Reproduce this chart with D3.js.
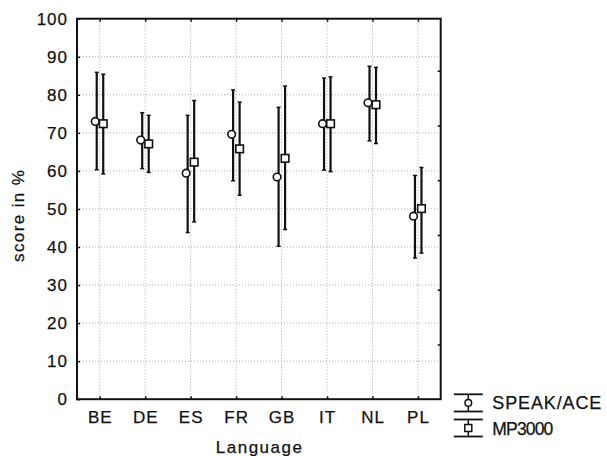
<!DOCTYPE html>
<html><head><meta charset="utf-8">
<script src="https://cdn.jsdelivr.net/npm/d3@7"></script>
<style>
html,body{margin:0;padding:0;background:#fff;}
text{font-family:"Liberation Sans",Arial,sans-serif;fill:#111;stroke:#111;stroke-width:0.25px;}
</style></head>
<body>
<svg id="chart" width="607" height="456"></svg>
<script>
const categories = ["BE","DE","ES","FR","GB","IT","NL","PL"];
const speakMean = [73.0, 68.1, 59.4, 69.6, 58.4, 72.4, 77.9, 48.1];
const speakLow  = [60.3, 60.6, 43.8, 57.4, 40.2, 60.2, 67.9, 37.1];
const speakHigh = [85.9, 75.3, 74.6, 81.3, 76.7, 84.4, 87.5, 58.8];
const mpMean = [72.4, 67.1, 62.3, 65.8, 63.3, 72.4, 77.4, 50.1];
const mpLow  = [59.2, 59.6, 46.6, 53.6, 44.6, 59.8, 67.2, 38.4];
const mpHigh = [85.4, 74.6, 78.5, 78.1, 82.3, 84.7, 87.2, 60.9];
const yTicks = [0,10,20,30,40,50,60,70,80,90,100];
const rightTicks = [1,2,3,4,5,6];
const seriesNames = ["SPEAK/ACE","MP3000"];

const svg = d3.select("#chart");
const L = 77, R = 440.7, T = 18.7, B = 399.2;
const x = d3.scalePoint().domain(categories).range([L, R]).padding(0.5);
const y = d3.scaleLinear().domain([0,100]).range([B, T]);
const yR = d3.scaleLinear().domain([0, 6.95]).range([B, T]);

// grid
const grid = svg.append("g");
grid.selectAll("line.h").data(yTicks.filter(d=>d>0&&d<100)).join("line")
  .attr("x1", L).attr("x2", R).attr("y1", d=>y(d)).attr("y2", d=>y(d))
  .attr("stroke","#aaa").attr("stroke-width",1).attr("stroke-dasharray","1,2");
grid.selectAll("line.v").data(categories).join("line")
  .attr("y1", T).attr("y2", B).attr("x1", d=>x(d)).attr("x2", d=>x(d))
  .attr("stroke","#aaa").attr("stroke-width",1).attr("stroke-dasharray","1,2");

// axes
const fs = 17;
const axL = svg.append("g").attr("transform",`translate(${L},0)`)
  .call(d3.axisLeft(y).tickValues(yTicks).tickSize(-3).tickPadding(9));
const axB = svg.append("g").attr("transform",`translate(0,${B})`)
  .call(d3.axisBottom(x).tickSize(-3).tickPadding(9));
const axT = svg.append("g").attr("transform",`translate(0,${T})`)
  .call(d3.axisTop(x).tickSize(-3).tickFormat(""));
const axR = svg.append("g").attr("transform",`translate(${R},0)`)
  .call(d3.axisRight(yR).tickValues(rightTicks).tickSize(-3).tickFormat(""));
[axL,axB,axT,axR].forEach(a=>{
  a.select(".domain").remove();
  a.selectAll(".tick line").attr("stroke","#111").attr("stroke-width",1.5);
  a.selectAll("text").style("font-size",fs+"px").style("letter-spacing","1px").attr("fill","#111");
});
axB.selectAll("text").attr("dy","0.9em");

// frame
svg.append("rect").attr("x",L).attr("y",T).attr("width",R-L).attr("height",B-T)
  .attr("fill","none").attr("stroke","#111").attr("stroke-width",2);

// error bars
const cap = 2;
const series = [
  {mean: speakMean, low: speakLow, high: speakHigh, dx: -3, shape: "circle"},
  {mean: mpMean, low: mpLow, high: mpHigh, dx: 3.5, shape: "square"}
];
series.forEach(s=>{
  const g = svg.append("g");
  const rows = categories.map((c,i)=>({c, m:s.mean[i], lo:s.low[i], hi:s.high[i]}));
  const gx = d=>x(d.c)+s.dx;
  g.selectAll("line.bar").data(rows).join("line")
    .attr("x1",gx).attr("x2",gx).attr("y1",d=>y(d.lo)).attr("y2",d=>y(d.hi))
    .attr("stroke","#111").attr("stroke-width",2.2);
  g.selectAll("line.capH").data(rows).join("line")
    .attr("x1",d=>gx(d)-cap).attr("x2",d=>gx(d)+cap).attr("y1",d=>y(d.hi)).attr("y2",d=>y(d.hi))
    .attr("stroke","#111").attr("stroke-width",1.5);
  g.selectAll("line.capL").data(rows).join("line")
    .attr("x1",d=>gx(d)-cap).attr("x2",d=>gx(d)+cap).attr("y1",d=>y(d.lo)).attr("y2",d=>y(d.lo))
    .attr("stroke","#111").attr("stroke-width",1.5);
  if (s.shape==="circle") {
    g.selectAll("circle").data(rows).join("circle")
      .attr("cx",d=>gx(d)-1.5).attr("cy",d=>y(d.m)).attr("r",3.8)
      .attr("fill","#fff").attr("stroke","#111").attr("stroke-width",1.6);
  } else {
    g.selectAll("rect").data(rows).join("rect")
      .attr("x",d=>gx(d)-3.8).attr("y",d=>y(d.m)-3.8).attr("width",7.6).attr("height",7.6)
      .attr("fill","#fff").attr("stroke","#111").attr("stroke-width",1.6);
  }
});

// axis titles
svg.append("text").attr("x",(L+R)/2).attr("y",453).attr("text-anchor","middle")
  .style("font-size",fs+"px").attr("textLength",86).attr("lengthAdjust","spacing").text("Language");
svg.append("text").attr("transform","translate(24,216) rotate(-90)").attr("text-anchor","middle")
  .style("font-size",fs+"px").attr("textLength",92).attr("lengthAdjust","spacing").text("score in %");

// legend
const lg = svg.append("g");
const lx = 468.3;
const legItems = [
  {name: seriesNames[0], top: 394.3, bot: 411.5, shape: "circle", len: 109},
  {name: seriesNames[1], top: 419.5, bot: 436.5, shape: "square", len: 61}
];
legItems.forEach(it=>{
  lg.append("line").attr("x1",lx).attr("x2",lx).attr("y1",it.top).attr("y2",it.bot).attr("stroke","#111").attr("stroke-width",1.5);
  lg.append("line").attr("x1",lx-14.5).attr("x2",lx+14.5).attr("y1",it.top).attr("y2",it.top).attr("stroke","#111").attr("stroke-width",1.8);
  lg.append("line").attr("x1",lx-14.5).attr("x2",lx+14.5).attr("y1",it.bot).attr("y2",it.bot).attr("stroke","#111").attr("stroke-width",1.8);
  const cy = (it.top+it.bot)/2;
  if (it.shape==="circle") {
    lg.append("circle").attr("cx",lx).attr("cy",cy).attr("r",3.3).attr("fill","#fff").attr("stroke","#111").attr("stroke-width",1.5);
  } else {
    lg.append("rect").attr("x",lx-3.5).attr("y",cy-3.5).attr("width",7).attr("height",7).attr("fill","#fff").attr("stroke","#111").attr("stroke-width",1.5);
  }
  lg.append("text").attr("x",492.3).attr("y",cy+6.5).style("font-size",it.len>80?"18px":"17.5px")
    .attr("textLength",it.len).attr("lengthAdjust","spacing").text(it.name);
});
</script>
</body></html>
